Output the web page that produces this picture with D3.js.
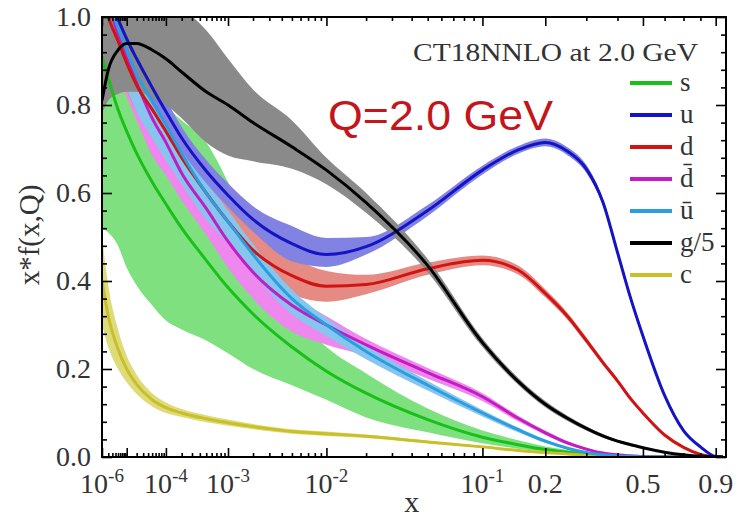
<!DOCTYPE html>
<html>
<head>
<meta charset="utf-8">
<script src="https://cdn.jsdelivr.net/npm/d3@7"></script>
<style>
  body { margin: 0; background: #fff; }
  svg { display: block; }
  .tick text { font-family: "Liberation Serif", "DejaVu Serif", serif; fill: #333; }
</style>
</head>
<body>
<div id="chart"></div>
<script>
// ---------------- data ----------------
var xs = [1e-6, 2e-6, 5e-6, 1e-5, 2e-5, 5e-5, 1e-4, 2e-4, 5e-4, 1e-3, 2e-3, 5e-3, 1e-2, 2e-2, 5e-2,
          0.1, 0.15, 0.2, 0.25, 0.3, 0.35, 0.4, 0.45, 0.5, 0.6, 0.7, 0.8, 0.9, 0.95];

var s    = [0.91, 0.86, 0.79, 0.74, 0.69, 0.625, 0.575, 0.52, 0.447, 0.385, 0.325, 0.25, 0.195, 0.145, 0.085, 0.045, 0.028, 0.017, 0.011, 0.007, 0.0045, 0.003, 0.002, 0.001, 0.0003, 0, 0, 0, 0];
var sLo  = [0.52, 0.51, 0.48, 0.43, 0.39, 0.345, 0.31, 0.29, 0.265, 0.236, 0.20, 0.163, 0.13, 0.09, 0.056, 0.031, 0.019, 0.012, 0.008, 0.005, 0.003, 0.002, 0.001, 0.0005, 0, 0, 0, 0, 0];
var sHi  = [0.97, 0.92, 0.86, 0.835, 0.825, 0.81, 0.795, 0.765, 0.715, 0.625, 0.50, 0.33, 0.25, 0.19, 0.11, 0.06, 0.038, 0.024, 0.016, 0.01, 0.0065, 0.004, 0.003, 0.0015, 0.0005, 0, 0, 0, 0];

var u    = [1.10, 1.05, 0.995, 0.95, 0.905, 0.84, 0.785, 0.725, 0.65, 0.595, 0.54, 0.485, 0.46, 0.478, 0.56, 0.652, 0.698, 0.715, 0.695, 0.655, 0.58, 0.465, 0.36, 0.275, 0.14, 0.06, 0.023, 0.001, 0];
var uLo  = [1.03, 0.99, 0.94, 0.90, 0.86, 0.80, 0.75, 0.695, 0.622, 0.568, 0.512, 0.445, 0.432, 0.46, 0.548, 0.642, 0.689, 0.706, 0.686, 0.646, 0.572, 0.457, 0.353, 0.269, 0.136, 0.057, 0.021, 0, 0];
var uHi  = [1.18, 1.12, 1.06, 1.01, 0.955, 0.88, 0.815, 0.75, 0.675, 0.622, 0.57, 0.525, 0.498, 0.50, 0.573, 0.662, 0.707, 0.724, 0.704, 0.664, 0.588, 0.473, 0.367, 0.281, 0.144, 0.063, 0.025, 0.002, 0];

var d    = [1.05, 1.0, 0.945, 0.895, 0.845, 0.79, 0.74, 0.68, 0.60, 0.535, 0.47, 0.412, 0.388, 0.392, 0.428, 0.447, 0.425, 0.372, 0.32, 0.265, 0.215, 0.173, 0.132, 0.10, 0.05, 0.022, 0.006, 0.0005, 0];
var dLo  = [0.97, 0.925, 0.875, 0.83, 0.785, 0.735, 0.69, 0.632, 0.554, 0.49, 0.426, 0.37, 0.353, 0.37, 0.414, 0.436, 0.415, 0.363, 0.312, 0.258, 0.209, 0.168, 0.127, 0.096, 0.047, 0.02, 0.005, 0, 0];
var dHi  = [1.13, 1.075, 1.015, 0.96, 0.905, 0.845, 0.79, 0.728, 0.646, 0.58, 0.514, 0.454, 0.423, 0.414, 0.442, 0.458, 0.435, 0.381, 0.328, 0.272, 0.221, 0.178, 0.137, 0.104, 0.053, 0.024, 0.007, 0.001, 0];

var dbar   = [1.09, 1.035, 0.96, 0.905, 0.85, 0.77, 0.715, 0.645, 0.565, 0.49, 0.42, 0.345, 0.30, 0.255, 0.192, 0.137, 0.088, 0.055, 0.032, 0.018, 0.009, 0.005, 0.002, 0.001, 0, 0, 0, 0, 0];
var dbarLo = [0.99, 0.94, 0.87, 0.817, 0.765, 0.685, 0.64, 0.583, 0.505, 0.43, 0.36, 0.285, 0.255, 0.23, 0.178, 0.127, 0.081, 0.05, 0.028, 0.015, 0.007, 0.0035, 0.001, 0.0005, 0, 0, 0, 0, 0];
var dbarHi = [1.13, 1.075, 1.00, 0.945, 0.89, 0.81, 0.75, 0.675, 0.593, 0.516, 0.444, 0.367, 0.32, 0.268, 0.202, 0.145, 0.094, 0.06, 0.036, 0.021, 0.011, 0.0065, 0.003, 0.0015, 0, 0, 0, 0, 0];

var ubar   = [1.10, 1.045, 0.975, 0.925, 0.87, 0.81, 0.755, 0.69, 0.60, 0.535, 0.46, 0.36, 0.30, 0.24, 0.163, 0.10, 0.062, 0.036, 0.02, 0.01, 0.005, 0.0025, 0.001, 0.0005, 0, 0, 0, 0, 0];
var ubarLo = [1.00, 0.95, 0.885, 0.837, 0.785, 0.725, 0.675, 0.62, 0.54, 0.485, 0.415, 0.325, 0.275, 0.222, 0.151, 0.092, 0.056, 0.032, 0.017, 0.008, 0.004, 0.0018, 0.0006, 0.0003, 0, 0, 0, 0, 0];
var ubarHi = [1.16, 1.10, 1.025, 0.97, 0.91, 0.845, 0.787, 0.72, 0.628, 0.561, 0.484, 0.38, 0.316, 0.253, 0.173, 0.107, 0.067, 0.04, 0.023, 0.012, 0.006, 0.0032, 0.0014, 0.0007, 0, 0, 0, 0, 0];

var g5   = [0.81, 0.88, 0.925, 0.94, 0.94, 0.925, 0.905, 0.875, 0.83, 0.80, 0.76, 0.705, 0.652, 0.578, 0.435, 0.26, 0.172, 0.12, 0.088, 0.065, 0.048, 0.036, 0.028, 0.021, 0.011, 0.005, 0.0015, 0.0002, 0];
var g5Lo = [0.78, 0.81, 0.825, 0.83, 0.83, 0.815, 0.80, 0.77, 0.715, 0.685, 0.672, 0.655, 0.62, 0.555, 0.42, 0.25, 0.164, 0.113, 0.082, 0.06, 0.044, 0.033, 0.025, 0.019, 0.0095, 0.004, 0.001, 0.0001, 0];
var g5Hi = [1.2, 1.2, 1.15, 1.12, 1.09, 1.06, 1.04, 1.02, 0.97, 0.905, 0.835, 0.765, 0.68, 0.60, 0.45, 0.27, 0.18, 0.127, 0.094, 0.07, 0.052, 0.039, 0.031, 0.023, 0.0125, 0.006, 0.002, 0.0003, 0];

var c    = [0.40, 0.32, 0.245, 0.20, 0.165, 0.13, 0.112, 0.10, 0.087, 0.078, 0.069, 0.058, 0.053, 0.047, 0.034, 0.023, 0.015, 0.010, 0.007, 0.004, 0.0025, 0.0015, 0.001, 0.0005, 0, 0, 0, 0, 0];
var cLo  = [0.30, 0.25, 0.20, 0.17, 0.143, 0.115, 0.10, 0.091, 0.079, 0.071, 0.063, 0.053, 0.048, 0.043, 0.031, 0.021, 0.013, 0.0088, 0.006, 0.0034, 0.002, 0.0012, 0.0008, 0.0004, 0, 0, 0, 0, 0];
var cHi  = [0.50, 0.39, 0.29, 0.23, 0.187, 0.145, 0.124, 0.109, 0.095, 0.085, 0.075, 0.063, 0.058, 0.051, 0.037, 0.025, 0.017, 0.0112, 0.008, 0.0046, 0.003, 0.0018, 0.0012, 0.0006, 0, 0, 0, 0, 0];

// axis ticks
var xMajor = [1e-6, 1e-5, 1e-4, 1e-3, 1e-2, 0.1, 0.2, 0.5, 0.9];
var xLabelVals = [1e-6, 1e-4, 1e-3, 1e-2, 0.1, 0.2, 0.5, 0.9];
var xLabelBase = ["10", "10", "10", "10", "10", "0.2", "0.5", "0.9"];
var xLabelExp  = ["-6", "-4", "-3", "-2", "-1", "", "", ""];
var xMinorLin  = [0.3, 0.4, 0.6, 0.7, 0.8];
var yMajor = [0, 0.2, 0.4, 0.6, 0.8, 1.0];

var legendNames = ["s", "u", "d", "d\u0304", "\u016b", "g/5", "c"];

// ---------------- setup ----------------
var margin = {top: 17, right: 16, bottom: 68, left: 102},
    width = 742 - margin.left - margin.right,
    height = 525 - margin.top - margin.bottom;

var svg = d3.select("#chart")
  .append("svg")
    .attr("width", width + margin.left + margin.right)
    .attr("height", height + margin.top + margin.bottom)
  .append("g")
    .attr("transform", "translate(" + margin.left + "," + margin.top + ")");

var x = d3.scalePow().exponent(0.2).domain([1e-6, 0.973]).range([0, width]);
var y = d3.scaleLinear().domain([0, 1]).range([height, 0]);

svg.append("clipPath").attr("id", "clip")
  .append("rect").attr("width", width).attr("height", height);

var plot = svg.append("g").attr("clip-path", "url(#clip)");

// flavours: centre, band edges, colours (drawing order)
var flavors = [
  {c: s,    lo: sLo,    hi: sHi,    line: "#18c018", band: "#7fe07f"},
  {c: c,    lo: cLo,    hi: cHi,    line: "#c8bf2a", band: "#dedb7a"},
  {c: dbar, lo: dbarLo, hi: dbarHi, line: "#c21cc2", band: "#ee88ee"},
  {c: d,    lo: dLo,    hi: dHi,    line: "#d01414", band: "#e68a84"},
  {c: ubar, lo: ubarLo, hi: ubarHi, line: "#2a9ede", band: "#86c6ee"},
  {c: u,    lo: uLo,    hi: uHi,    line: "#1414c4", band: "#8282e2"},
  {c: g5,   lo: g5Lo,   hi: g5Hi,   line: "#000000", band: "#8a8a8a"}
];

var area = d3.area()
  .x(function(i) { return x(xs[i]); })
  .curve(d3.curveMonotoneX);

var line = d3.line()
  .x(function(i) { return x(xs[i]); })
  .curve(d3.curveMonotoneX);

var idx = d3.range(xs.length);

// uncertainty bands
flavors.forEach(function(f) {
  plot.append("path")
    .datum(idx)
    .attr("fill", f.band)
    .attr("d", area.y0(function(i) { return y(f.lo[i]); })
                   .y1(function(i) { return y(f.hi[i]); }));
});

// central lines
flavors.forEach(function(f) {
  plot.append("path")
    .datum(idx)
    .attr("fill", "none")
    .attr("stroke", f.line)
    .attr("stroke-width", 3)
    .attr("d", line.y(function(i) { return y(f.c[i]); }));
});

// ---------------- axes ----------------
var xMinor = [];
[-6, -5, -4, -3, -2].forEach(function(k) {
  for (var m = 2; m <= 9; m++) xMinor.push(m * Math.pow(10, k));
});
xMinor = xMinor.concat(xMinorLin);

function noDomain(g) { g.select(".domain").remove(); }

svg.append("g").attr("transform", "translate(0," + height + ")")
  .call(d3.axisBottom(x).tickValues(xMinor).tickSize(-4).tickFormat("")).call(noDomain);
svg.append("g")
  .call(d3.axisTop(x).tickValues(xMinor).tickSize(-4).tickFormat("")).call(noDomain);
svg.append("g")
  .call(d3.axisTop(x).tickValues(xMajor).tickSize(-9).tickFormat("")).call(noDomain);
svg.append("g").attr("transform", "translate(0," + height + ")")
  .call(d3.axisBottom(x).tickValues(xMajor).tickSize(-9).tickFormat("")).call(noDomain);

// x labels with superscripts
var xl = svg.append("g")
  .attr("font-family", "Liberation Serif, DejaVu Serif, serif")
  .attr("fill", "#333");
xLabelVals.forEach(function(v, i) {
  var t = xl.append("text")
    .attr("x", x(v))
    .attr("y", height + 36)
    .attr("text-anchor", "middle")
    .attr("font-size", 28);
  t.append("tspan").text(xLabelBase[i]);
  if (xLabelExp[i]) {
    t.append("tspan").attr("dy", -11).attr("font-size", 19).text(xLabelExp[i]);
  }
});

var yMinor = d3.range(0.04, 1.0, 0.04).filter(function(v) { return Math.abs(v / 0.2 - Math.round(v / 0.2)) > 0.01; });

svg.append("g").call(d3.axisLeft(y).tickValues(yMinor).tickSize(-5).tickFormat("")).call(noDomain);
svg.append("g").attr("transform", "translate(" + width + ",0)")
  .call(d3.axisRight(y).tickValues(yMinor).tickSize(-5).tickFormat("")).call(noDomain);
svg.append("g").attr("transform", "translate(" + width + ",0)")
  .call(d3.axisRight(y).tickValues(yMajor).tickSize(-10).tickFormat("")).call(noDomain);
svg.append("g")
  .call(d3.axisLeft(y).tickValues(yMajor).tickSize(-10).tickPadding(11).tickFormat(d3.format(".1f")))
  .call(noDomain)
  .selectAll("text").attr("font-size", 28);

svg.selectAll(".tick line").attr("stroke", "#000").attr("stroke-width", 1.6);

// frame
svg.append("rect")
  .attr("width", width).attr("height", height)
  .attr("fill", "none").attr("stroke", "#000").attr("stroke-width", 2);

// axis titles
svg.append("text")
  .attr("x", x(0.04)).attr("y", height + 55)
  .attr("text-anchor", "middle")
  .attr("font-family", "Liberation Serif, serif").attr("font-size", 30).attr("fill", "#333")
  .text("x");

svg.append("text")
  .attr("transform", "translate(" + (-63) + "," + (height / 2 - 2) + ") rotate(-90)")
  .attr("text-anchor", "middle")
  .attr("font-family", "Liberation Serif, serif").attr("font-size", 29).attr("fill", "#333")
  .text("x*f(x,Q)");

// ---------------- legend ----------------
svg.append("text")
  .attr("x", 311).attr("y", 44)
  .attr("font-family", "Liberation Serif, serif").attr("font-size", 26).attr("fill", "#333")
  .attr("textLength", 285).attr("lengthAdjust", "spacingAndGlyphs")
  .text("CT18NNLO at 2.0 GeV");

svg.append("text")
  .attr("x", 226).attr("y", 113)
  .attr("font-family", "Liberation Sans, Arial, sans-serif").attr("font-size", 42).attr("fill", "#c2161c")
  .attr("textLength", 225).attr("lengthAdjust", "spacingAndGlyphs")
  .text("Q=2.0 GeV");

var legendColors = ["#18c018", "#1414c4", "#d01414", "#c21cc2", "#2a9ede", "#000000", "#c8bf2a"];
var leg = svg.append("g").attr("transform", "translate(528,66)");
legendNames.forEach(function(n, i) {
  leg.append("line")
    .attr("x1", 0).attr("x2", 42)
    .attr("y1", i * 32).attr("y2", i * 32)
    .attr("stroke", legendColors[i]).attr("stroke-width", 4);
  leg.append("text")
    .attr("x", 50).attr("y", i * 32 + 8)
    .attr("font-family", "Liberation Serif, DejaVu Serif, serif").attr("font-size", 27).attr("fill", "#333")
    .text(n);
});
</script>
</body>
</html>
